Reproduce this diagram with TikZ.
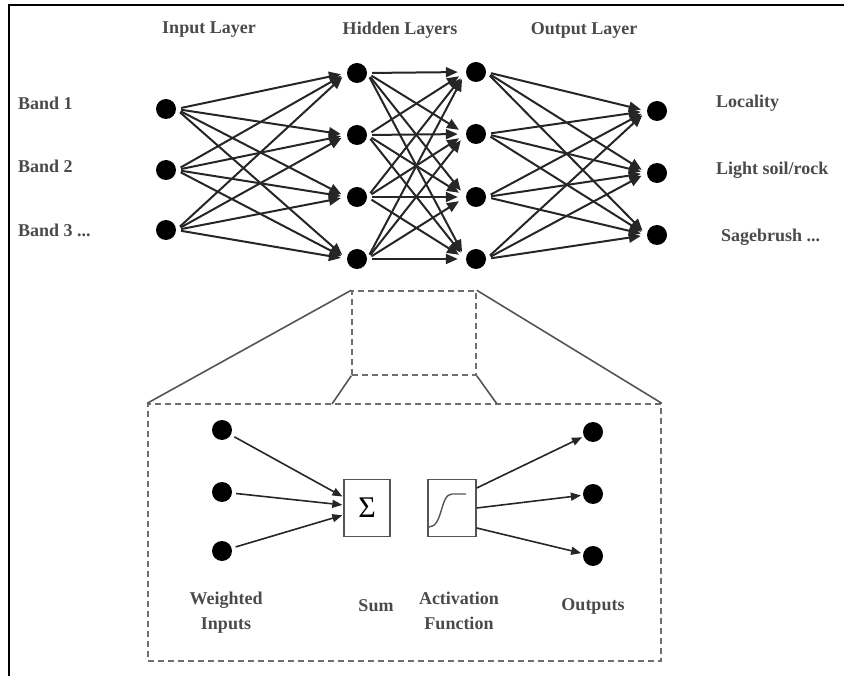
\documentclass[tikz,border=0pt]{standalone}
\usepackage{fontspec}
\setmainfont{Liberation Serif}
\usetikzlibrary{arrows.meta}
\definecolor{txt}{HTML}{4A4A4A}
\definecolor{boxc}{HTML}{555555}
\definecolor{dashc}{HTML}{6E6E6E}
\begin{document}
\begin{tikzpicture}[x=1pt,y=-1pt,
  neuron/.style={circle,fill=black,minimum size=20pt,inner sep=0pt},
  lbl/.style={text=txt,font=\fontsize{18}{25}\selectfont\bfseries,inner sep=0pt},
  conn/.style={draw=black!85,line width=2pt,-{Triangle[length=12pt,width=10pt]},shorten <=5pt,shorten >=6pt},
  iconn/.style={draw=black!85,line width=1.6pt,-{Triangle[length=10pt,width=8pt]},shorten <=4pt,shorten >=1pt},
  dbox/.style={draw=dashc,dashed,dash pattern=on 6pt off 4pt,line width=1.5pt,inner sep=0pt},
  zl/.style={draw=boxc,line width=1.6pt},
  opbox/.style={draw=boxc,line width=1.4pt,fill=white,inner sep=0pt,minimum height=57pt}]
\useasboundingbox (0,0) rectangle (844,676);
% frame
\draw[line width=2.6pt,black] (9,676) -- (9,5) -- (844,5);
% titles
\node[lbl] (tIn) at (209,30) {Input Layer};
\node[lbl] (tHid) at (400,30) {Hidden Layers};
\node[lbl] (tOut) at (584,30) {Output Layer};
% neurons
\node[neuron] (i1) at (166,109) {};
\node[neuron] (i2) at (166,170) {};
\node[neuron] (i3) at (166,230) {};
\node[neuron] (h1) at (357,73) {};
\node[neuron] (h2) at (357,135) {};
\node[neuron] (h3) at (357,197) {};
\node[neuron] (h4) at (357,259) {};
\node[neuron] (g1) at (476,72) {};
\node[neuron] (g2) at (476,134) {};
\node[neuron] (g3) at (476,197) {};
\node[neuron] (g4) at (476,259) {};
\node[neuron] (o1) at (657,111) {};
\node[neuron] (o2) at (657,173) {};
\node[neuron] (o3) at (657,235) {};
% labels
\node[lbl,anchor=west] (b1) at (18,103) {Band 1};
\node[lbl,anchor=west] (b2) at (18,166) {Band 2};
\node[lbl,anchor=west] (b3) at (18,230) {Band 3 ...};
\node[lbl,anchor=west] (c1) at (716,103) {Locality};
\node[lbl,anchor=west] (c2) at (716,170) {Light soil/rock};
\node[lbl,anchor=west] (c3) at (721,237) {Sagebrush ...};
% connections
\foreach \a in {1,2,3} \foreach \b in {1,2,3,4} \draw[conn] (i\a.east) -- (h\b.west);
\foreach \a in {1,2,3,4} \foreach \b in {1,2,3,4} \draw[conn,shorten >=8pt] (h\a.east) -- (g\b.west);
\foreach \a in {1,2,3,4} \foreach \b in {1,2,3} \draw[conn] (g\a.east) -- (o\b.west);
% zoom boxes
\node[dbox,minimum width=124pt,minimum height=84pt] (zoom) at (414,333) {};
\node[dbox,minimum width=513pt,minimum height=257pt] (big) at (404.5,532.5) {};
\coordinate (bl) at (332,404);
\coordinate (br) at (497,404);
\draw[zl] (zoom.north west) -- (big.north west);
\draw[zl] (zoom.north east) -- (big.north east);
\draw[zl] (zoom.south west) -- (bl);
\draw[zl] (zoom.south east) -- (br);
% inner neuron
\node[neuron] (w1) at (222,430) {};
\node[neuron] (w2) at (222,492) {};
\node[neuron] (w3) at (222,551) {};
\node[neuron] (y1) at (593,432) {};
\node[neuron] (y2) at (593,494) {};
\node[neuron] (y3) at (593,556) {};
\node[opbox,minimum width=46pt] (sum) at (367,508) {\fontsize{30}{30}\selectfont Σ};
\node[opbox,minimum width=48pt] (act) at (452,508) {};
\draw[boxc,line width=1.4pt] (429,527) .. controls (443,527) and (440,494) .. (452,494) -- (466,494);
\draw[iconn] (w1) -- ([yshift=11pt]sum.west);
\draw[iconn] (w2) -- ([yshift=3pt]sum.west);
\draw[iconn] (w3) -- ([yshift=-7pt]sum.west);
\draw[iconn,shorten <=0pt,shorten >=2pt] ([yshift=20pt]act.east) -- (y1);
\draw[iconn,shorten <=0pt,shorten >=2pt] (act.east) -- (y2);
\draw[iconn,shorten <=0pt,shorten >=2pt] ([yshift=-20pt]act.east) -- (y3);
% inner labels
\node[lbl,align=center] (lw) at (226,613) {Weighted\\Inputs};
\node[lbl] (ls) at (376,606) {Sum};
\node[lbl,align=center] (la) at (459,611) {Activation\\Function};
\node[lbl] (lo) at (593,606) {Outputs};
\end{tikzpicture}
\end{document}
